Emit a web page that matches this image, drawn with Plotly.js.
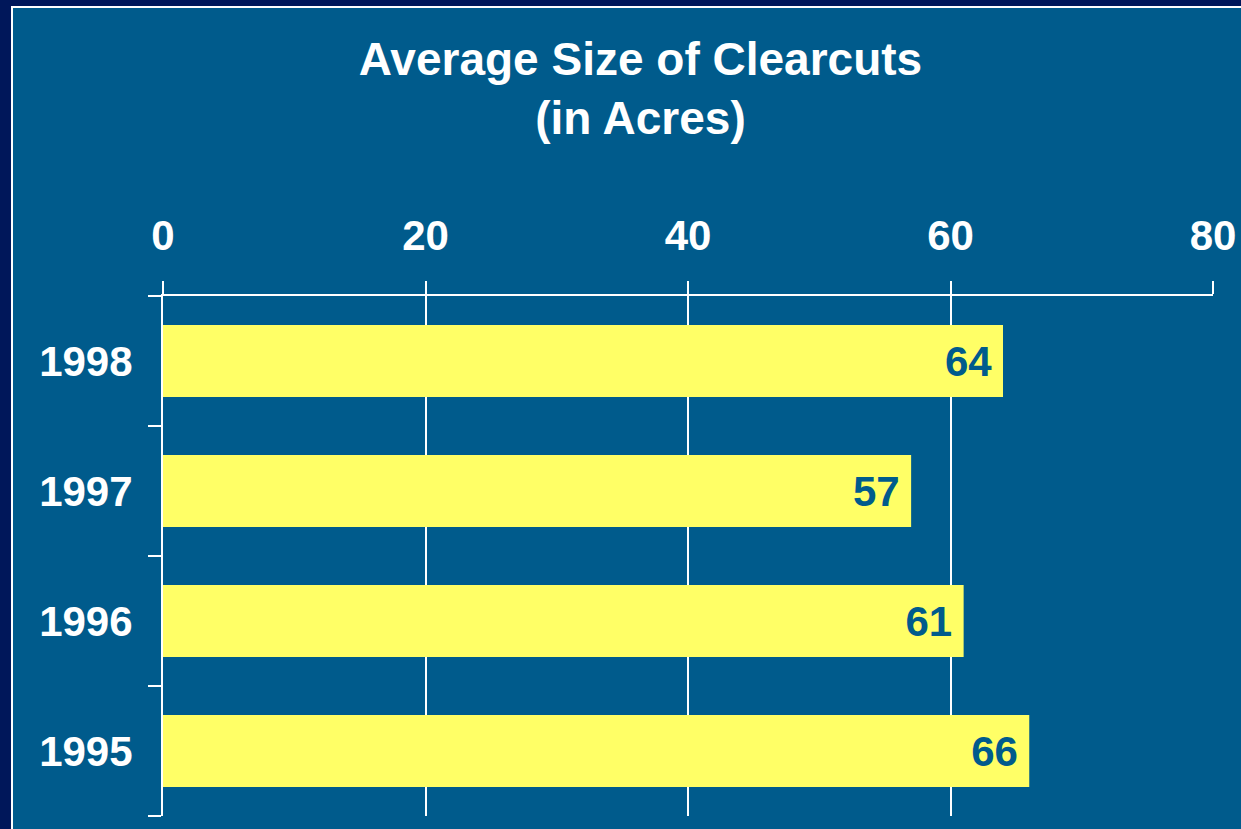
<!DOCTYPE html>
<html>
<head>
<meta charset="utf-8">
<script src="https://cdn.plot.ly/plotly-3.0.1.min.js"></script>
<style>
  html, body { margin: 0; padding: 0; background: #00175A; width: 1241px; height: 829px; overflow: hidden; }
  #chart { position: absolute; left: 11px; top: 6px; width: 1228px; height: 821px;
           border-left: 2px solid #FFFFFF; border-top: 2px solid #FFFFFF; }
</style>
</head>
<body>
<div id="chart"></div>
<script>
const years = ['1995', '1996', '1997', '1998'];
const sizes = [66, 61, 57, 64];
const xTicks = [0, 20, 40, 60, 80];
const titleText = 'Average Size of Clearcuts<br>(in Acres)';

const BG = '#005B8C';
const FONT = 'Liberation Sans, Arial, sans-serif';

const trace = {
  type: 'bar',
  orientation: 'h',
  x: sizes,
  y: years,
  text: sizes.map(v => String(v) + '\u2009'),
  textposition: 'inside',
  insidetextanchor: 'end',
  constraintext: 'none',
  textangle: 0,
  textfont: { family: FONT, size: 42, color: BG, weight: 'bold' },
  insidetextfont: { family: FONT, size: 42, color: BG, weight: 'bold' },
  marker: { color: '#FFFF66', line: { width: 0 } },
  hoverinfo: 'none'
};

const layout = {
  width: 1228, height: 821,
  paper_bgcolor: BG, plot_bgcolor: BG,
  margin: { l: 150, r: 28, t: 288, b: 13, pad: 0 },
  showlegend: false,
  bargap: 0.446,
  title: {
    text: titleText,
    x: 0.511, xref: 'container', xanchor: 'center',
    y: 0.919, yref: 'container', yanchor: 'top',
    font: { family: FONT, size: 46, color: '#FFFFFF', weight: 'bold' }
  },
  xaxis: {
    side: 'top', range: [0, 80], tickvals: xTicks, ticktext: xTicks.map(String),
    showgrid: true, gridcolor: '#FFFFFF', gridwidth: 2,
    zeroline: false, showline: true, linecolor: '#FFFFFF', linewidth: 2,
    ticks: 'outside', ticklen: 13, tickwidth: 2, tickcolor: '#FFFFFF',
    ticklabelstandoff: 14,
    tickfont: { family: FONT, size: 42, color: '#FFFFFF', weight: 'bold' },
    fixedrange: true
  },
  yaxis: {
    type: 'category', categoryorder: 'array', categoryarray: years,
    range: [-0.5, 3.5],
    showgrid: false, zeroline: false,
    showline: true, linecolor: '#FFFFFF', linewidth: 2,
    ticks: 'outside', tickson: 'boundaries', ticklen: 13, tickwidth: 2, tickcolor: '#FFFFFF',
    ticklabelstandoff: 20,
    tickfont: { family: FONT, size: 42, color: '#FFFFFF', weight: 'bold' },
    fixedrange: true
  }
};

Plotly.newPlot('chart', [trace], layout, { displayModeBar: false, staticPlot: true });
</script>
</body>
</html>
